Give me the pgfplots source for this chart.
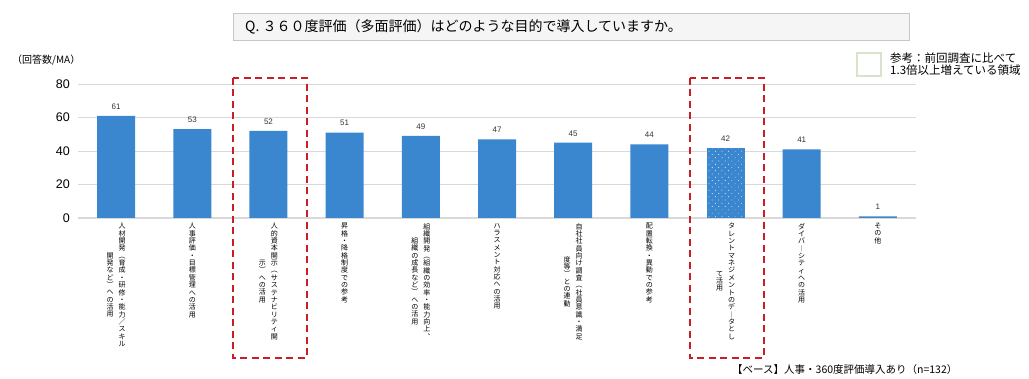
\documentclass[border=0pt]{standalone}
\usepackage{fontspec}
\setmainfont{Noto Sans CJK JP}
\newfontfamily\arial{Liberation Sans}
\usepackage{pgfplots}
\pgfplotsset{compat=1.18}
\usetikzlibrary{patterns.meta}
\definecolor{barblue}{RGB}{58,135,208}
\definecolor{dred}{RGB}{200,30,36}
\definecolor{gridc}{RGB}{217,217,217}
\definecolor{legg}{RGB}{216,228,202}
\def\vtend{\vtend}
\def\vtloop#1{\ifx#1\vtend\else\hbox to 8pt{\hss#1\hss}\expandafter\vtloop\fi}
\newcommand\vcol[1]{\parbox[c]{8pt}{\baselineskip=7.35pt\lineskiplimit=-20pt\lineskip=0pt\vtloop#1\vtend}}
\newcommand\vtwo[2]{\vcol{#2}\hspace{4pt}\vcol{#1}}
\begin{document}
\begin{tikzpicture}[x=1pt,y=1pt]
\useasboundingbox (0,0) rectangle (1029,379);
\filldraw[fill=gray!8, draw=gray!45, line width=0.8pt] (233,366) rectangle (909,339);
\node[anchor=west, inner sep=0pt, font=\fontsize{14}{16}\selectfont] at (245,352.5) {Q. ３６０度評価（多面評価）はどのような目的で導入していますか。};
\node[anchor=west, inner sep=0pt, font=\fontsize{10}{12}\selectfont] at (12,319) {（回答数/MA）};
\filldraw[fill=white, draw=legg, line width=1.3pt] (857,326) rectangle (881,303);
\node[anchor=west, inner sep=0pt, font=\fontsize{11.5}{12}\selectfont] at (890,320.5) {参考：前回調査に比べて};
\node[anchor=west, inner sep=0pt, font=\fontsize{11.5}{12}\selectfont] at (890,308.5) {1.3倍以上増えている領域};
\node[anchor=west, inner sep=0pt, font=\fontsize{10.5}{12}\selectfont] at (732,9) {【ベース】人事・360度評価導入あり（n=132）};
\begin{axis}[
  at={(78pt,161pt)}, anchor=south west,
  scale only axis, width=838pt, height=134pt,
  xmin=-0.5, xmax=10.5, ymin=0, ymax=80,
  enlargelimits=false, clip=false,
  ytick={0,20,40,60,80},
  xtick={0,...,10},
  xticklabels={
    {\vtwo{人材開発︵育成・研修・能力／スキル}{開発など︶への活用}},
    {\vcol{人事評価・目標管理への活用}},
    {\vtwo{人的資本開示︵サステナビリティ開}{示︶への活用}},
    {\vcol{昇格・降格制度での参考}},
    {\vtwo{組織開発︵組織の効率・能力向上︑}{組織の成長など︶への活用}},
    {\vcol{ハラスメント対応への活用}},
    {\vtwo{自社社員向け調査︵社員意識・満足}{度等︶との連動}},
    {\vcol{配置転換・異動での参考}},
    {\vtwo{タレントマネジメントのデ︱タとし}{て活用}},
    {\vcol{ダイバ︱シティへの活用}},
    {\vcol{その他}}
  },
  xticklabel style={anchor=north, inner sep=0pt, yshift=-5pt, font=\fontsize{7}{7}\selectfont},
  yticklabel style={inner sep=0pt, xshift=-8pt, font=\arial\fontsize{12.5}{14}\selectfont},
  /pgf/number format/assume math mode=true,
  major tick length=0pt,
  axis x line*=bottom, axis y line*=left,
  y axis line style={draw=none},
  x axis line style={draw=gridc, line width=1pt},
  ymajorgrids, grid style={draw=gridc, line width=0.8pt},
  ybar, bar width=38pt, bar shift=0pt,
  nodes near coords,
  nodes near coords style={font=\arial\fontsize{8}{9}\selectfont, text=black!80, yshift=3pt},
]
\addplot[fill=barblue, draw=none] coordinates {(0,61) (1,53) (2,52) (3,51) (4,49) (5,47) (6,45) (7,44) (9,41) (10,1)};
\addplot[fill=barblue, draw=none, postaction={pattern={Dots[distance=4.6pt,radius=0.5pt,angle=45]}, pattern color=white}] coordinates {(8,42)};
\draw[dred, line width=2pt, dash pattern=on 7pt off 4.5pt] (axis cs:1.53,83.6) rectangle (axis cs:2.5,-83.6);
\draw[dred, line width=2pt, dash pattern=on 7pt off 4.5pt] (axis cs:7.53,83.6) rectangle (axis cs:8.5,-83.6);
\end{axis}
\end{tikzpicture}
\end{document}
